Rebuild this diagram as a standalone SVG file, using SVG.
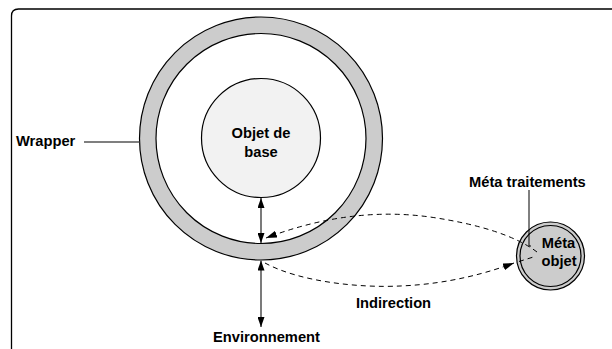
<svg xmlns="http://www.w3.org/2000/svg" width="612" height="349" viewBox="0 0 612 349">
  <style>
    .lbl { font-family: "Liberation Sans", Arial, sans-serif; font-weight: bold; font-size: 14.7px; fill: #000; }
    .ring { fill: #cccccc; stroke: #000; stroke-width: 1.2; }
    .dash { fill: none; stroke: #000; stroke-width: 1; stroke-dasharray: 5 4; }
    .solid { fill: none; stroke: #333; stroke-width: 1.3; }
  </style>
  <defs>
    <marker id="arrow" viewBox="0 0 10 7" refX="10" refY="3.5" markerWidth="10" markerHeight="7" markerUnits="userSpaceOnUse" orient="auto-start-reverse">
      <path d="M0,0 L10,3.5 L0,7 z" fill="#000"/>
    </marker>
    <marker id="arrowD" viewBox="0 0 11 7" refX="11" refY="3.5" markerWidth="11" markerHeight="7" markerUnits="userSpaceOnUse" orient="auto">
      <path d="M0,0 L11,3.5 L0,7 z" fill="#000"/>
    </marker>
  </defs>

  <rect width="612" height="349" fill="#fff"/>

  <!-- frame -->
  <path d="M11.5,349 V16 Q11.5,9 18.5,9 H612" fill="none" stroke="#000" stroke-width="1.3"/>

  <!-- wrapper ring -->
  <g id="wrapper">
    <circle cx="261" cy="138.5" r="121.5" class="ring"/>
    <circle cx="261" cy="138.5" r="105" fill="#fff" stroke="#000" stroke-width="1.2"/>
    <line x1="84" y1="142" x2="139.5" y2="142" stroke="#555" stroke-width="1.3"/>
    <text x="16" y="146" class="lbl">Wrapper</text>
  </g>

  <!-- base object -->
  <g id="objet-de-base">
    <circle cx="261" cy="138" r="59.5" fill="#f2f2f2" stroke="#000" stroke-width="1.2"/>
    <text x="261" y="138" class="lbl" text-anchor="middle">Objet de</text>
    <text x="261" y="157" class="lbl" text-anchor="middle">base</text>
  </g>

  <!-- meta object -->
  <g id="meta-objet">
    <circle cx="550.5" cy="256" r="34" class="ring"/>
    <circle cx="550.5" cy="256" r="30.5" class="ring"/>
    <text x="558.5" y="248" class="lbl" text-anchor="middle">Méta</text>
    <text x="559" y="266" class="lbl" text-anchor="middle">objet</text>
  </g>

  <!-- labels -->
  <g id="meta-traitements">
    <text x="469" y="187" class="lbl">Méta traitements</text>
    <polyline points="529,190 529,246 531,246" fill="none" stroke="#000" stroke-width="1"/>
  </g>
  <g id="environnement">
    <text x="213" y="342" class="lbl">Environnement</text>
  </g>
  <g id="indirection">
    <text x="356" y="308" class="lbl">Indirection</text>
  </g>

  <!-- connectors -->
  <g id="connectors">
    <line x1="261" y1="198" x2="261" y2="243" class="solid" marker-start="url(#arrow)" marker-end="url(#arrow)"/>
    <line x1="261" y1="260.5" x2="261" y2="327" class="solid" marker-start="url(#arrow)" marker-end="url(#arrow)"/>
    <path d="M537,252 Q505,228 430,217 Q350,206 266,238" class="dash" marker-end="url(#arrowD)"/>
    <path d="M265,263 C300,282 360,288 400,286 C450,284 490,272 514,263" class="dash" marker-end="url(#arrowD)"/>
    <line x1="519" y1="261.5" x2="535" y2="256.5" class="dash"/>
  </g>
</svg>
